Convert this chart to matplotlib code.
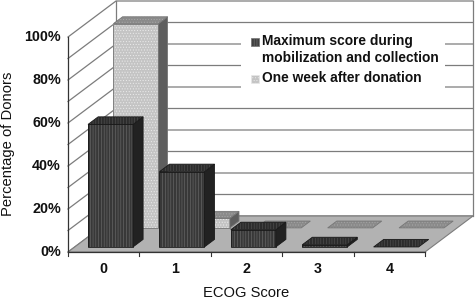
import matplotlib
matplotlib.use("Agg")
from matplotlib import pyplot as plt
from matplotlib.patches import Polygon, Rectangle

plt.rcParams['font.family'] = ['Liberation Sans', 'DejaVu Sans']
plt.rcParams['hatch.linewidth'] = 0.4

# data
categories = ['0', '1', '2', '3', '4']
max_score = [57, 35, 8, 1, 0]
one_week = [95, 4.5, 0, 0, 0]
y_ticks = [0, 20, 40, 60, 80, 100]
grid_values = [0, 10, 20, 30, 40, 50, 60, 70, 80, 90, 100]
legend_labels = ['Maximum score during', 'mobilization and collection', 'One week after donation']

# oblique projection of the 3d box, in pixels
X0, Y0 = 68, 252
SLOT = 71.4
Y_SCALE = 2.15
DEPTH_X, DEPTH_Y = 48, 36
BAR_LEFT, BAR_WIDTH = 13.3, 45
GRID_COLOR = '#7c7c7c'
TEXT_COLOR = '#111111'


# slot position, percent and depth (0 front, 1 back) to pixels
def project(slot, value, depth=0.0):
    return (X0 + slot * SLOT + depth * DEPTH_X, Y0 - value * Y_SCALE - depth * DEPTH_Y)


# a face with a hatch in one colour and an outline in another
def face(ax, pts, fc, hatch_color, hatch, edge, z):
    if hatch:
        ax.add_patch(Polygon(pts, fc=fc, ec=hatch_color, hatch=hatch, lw=0, zorder=z))
        ax.add_patch(Polygon(pts, fc='none', ec=edge, lw=0.6, zorder=z))
    else:
        ax.add_patch(Polygon(pts, fc=fc, ec=edge, lw=0.6, zorder=z))


# one 3d bar: front, side and top faces
def draw_bar(ax, i, value, d0, d1, style, z):
    s0 = i + BAR_LEFT / SLOT
    s1 = s0 + BAR_WIDTH / SLOT
    front = [project(s0, 0, d0), project(s1, 0, d0), project(s1, value, d0), project(s0, value, d0)]
    side = [project(s1, 0, d0), project(s1, 0, d1), project(s1, value, d1), project(s1, value, d0)]
    top = [project(s0, value, d0), project(s1, value, d0), project(s1, value, d1), project(s0, value, d1)]
    if value > 0:
        face(ax, front, style['front'], style['hatch_color'], style['hatch'], style['edge'], z)
        face(ax, side, style['side'], None, None, style['edge'], z)
    face(ax, top, style['top'], style['top_hatch'], style['hatch'], style['edge'], z)


fig = plt.figure(figsize=(4.75, 3.0), dpi=100)
ax = fig.add_axes([0, 0, 1, 1])
ax.set_xlim(0, 475)
ax.set_ylim(300, 0)
ax.axis('off')

# walls and floor
n = len(categories)
ax.add_patch(Polygon([project(0, 0), project(n, 0), project(n, 0, 1), project(0, 0, 1)],
                     fc='#b2b2b2', ec=GRID_COLOR, lw=0.8, zorder=1))
for v in grid_values:
    a, b, c = project(0, v), project(0, v, 1), project(n, v, 1)
    ax.plot([a[0], b[0], c[0]], [a[1], b[1], c[1]], color=GRID_COLOR, lw=0.9, zorder=0.5)
a, b = project(0, 0), project(0, 100)
ax.plot([a[0], b[0]], [a[1], b[1]], color='#333333', lw=0.9, zorder=2)
a, b = project(0, 0, 1), project(0, 100, 1)
ax.plot([a[0], b[0]], [a[1], b[1]], color=GRID_COLOR, lw=0.9, zorder=0.5)
a, b = project(n, 0, 1), project(n, 100, 1)
ax.plot([a[0], b[0]], [a[1], b[1]], color=GRID_COLOR, lw=0.9, zorder=0.5)

# legend sits on a white patch that hides the grid lines
ax.add_patch(Rectangle((241, 30), 204, 65, fc='white', ec='none', zorder=0.7))
ax.add_patch(Rectangle((250.5, 38), 8, 8, fc='#404040', ec='#777777', hatch='||||||', lw=0.5, zorder=3))
ax.add_patch(Rectangle((250.5, 75), 8, 8, fc='#c4c4c4', ec='#e8e8e8', hatch='......', lw=0.5, zorder=3))
ax.text(262, 41, legend_labels[0], fontsize=9.9, fontweight='bold', va='center', ha='left', color=TEXT_COLOR, zorder=3)
ax.text(262, 58, legend_labels[1], fontsize=9.9, fontweight='bold', va='center', ha='left', color=TEXT_COLOR, zorder=3)
ax.text(262, 78, legend_labels[2], fontsize=9.9, fontweight='bold', va='center', ha='left', color=TEXT_COLOR, zorder=3)

# back series first, front series over it
dark = {'front': '#383838', 'side': '#222222', 'top': '#2c2c2c', 'edge': '#1a1a1a',
        'hatch': '||||||', 'hatch_color': '#6e6e6e', 'top_hatch': '#555555'}
light = {'front': '#c4c4c4', 'side': '#5e5e5e', 'top': '#8a8a8a', 'edge': '#777777',
         'hatch': '......', 'hatch_color': '#ececec', 'top_hatch': '#a8a8a8'}
for i, v in enumerate(one_week):
    draw_bar(ax, i, v, 0.67, 0.86, light, 4)
for i, v in enumerate(max_score):
    draw_bar(ax, i, v, 0.14, 0.35, dark, 5)

# ticks and labels
for v in y_ticks:
    x, y = project(0, v)
    ax.text(x - 7, y, '%d%%' % v, fontsize=10.3, fontweight='bold', ha='right', va='center', color=TEXT_COLOR)
for i in range(n + 1):
    x, y = project(i, 0)
    ax.plot([x, x], [y, y + 4], color='#333333', lw=0.8, zorder=2)
for i, c in enumerate(categories):
    x, y = project(i + 0.5, 0)
    ax.text(x, y + 17, c, fontsize=10.3, fontweight='bold', ha='center', va='center', color=TEXT_COLOR)
ax.plot([X0, X0 + n * SLOT], [Y0, Y0], color='#333333', lw=0.9, zorder=2)

ax.text(246, 293, 'ECOG Score', fontsize=10.6, ha='center', va='center', color=TEXT_COLOR)
ax.text(8, 144, 'Percentage of Donors', fontsize=10.6, rotation=90, ha='center', va='center', color=TEXT_COLOR)

fig.savefig('out.png', dpi=100)
